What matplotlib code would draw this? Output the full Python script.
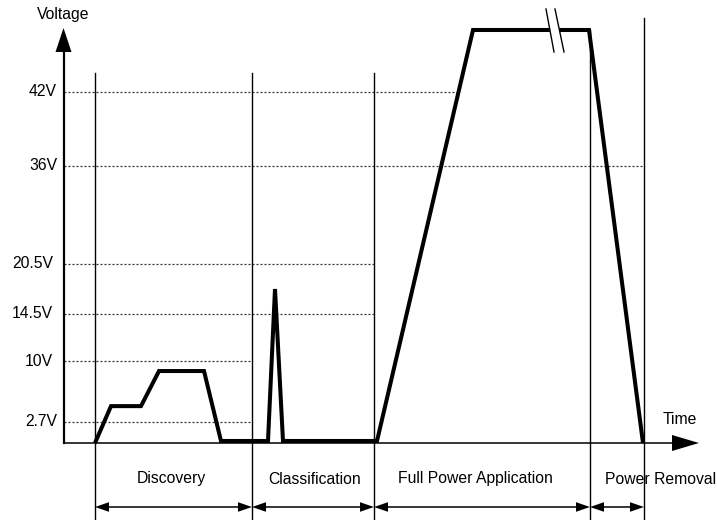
import numpy as np
import matplotlib
matplotlib.use("Agg")
import matplotlib.pyplot as plt

plt.rcParams['font.family'] = ['Liberation Sans', 'DejaVu Sans']

# ---- data ----
phase_names = ['Discovery', 'Classification', 'Full Power Application', 'Power Removal']
phase_bounds = [95, 252, 374, 590, 644]           # time positions of phase borders
phase_label_x = [171, 315, 475, 661]

wave_t = [95, 111, 141, 159, 204, 221, 268, 275, 283, 377, 473, 589, 643]
wave_v = [0, 4.6, 4.6, 8.8, 8.8, 0.26, 0.26, 17.5, 0.26, 0.26, 57, 57, 0]

tick_v = [2.7, 10, 14.5, 20.5, 36, 42]
tick_labels = ['2.7V', '10V', '14.5V', '20.5V', '36V', '42V']
tick_label_right = [57, 53, 53, 53, 57, 57]
grid_end_t = [252, 252, 374, 374, 644, 458]

# schematic (non-linear) voltage scale
V_KNOTS = [0, 2.7, 10, 14.5, 20.5, 36, 42, 57]
P_KNOTS = [0, 21, 82, 129, 179, 277, 351, 413]


def vpos(v):
    return np.interp(v, V_KNOTS, P_KNOTS)


fig = plt.figure(figsize=(7.17, 5.2), dpi=100)
ax = fig.add_axes([0, 0, 1, 1])
ax.set_xlim(0, 717)
ax.set_ylim(-77, 443)
ax.axis('off')

ORIGIN_X = 63.5
AX_TOP = 415
X_TIP = 699

# axes
ax.plot([ORIGIN_X, X_TIP - 20], [0, 0], color='black', lw=1.1, zorder=3)
ax.fill([672, X_TIP, 672], [8, 0, -8], color='black', zorder=3, lw=0)
ax.plot([ORIGIN_X, ORIGIN_X], [0, AX_TOP - 20], color='black', lw=1.6, zorder=3)
ax.fill([ORIGIN_X - 8, ORIGIN_X, ORIGIN_X + 8], [AX_TOP - 24, AX_TOP, AX_TOP - 24],
        color='black', zorder=3, lw=0)
ax.text(ORIGIN_X, 428, 'Voltage', ha='center', va='center', fontsize=11.3)
ax.text(680, 24, 'Time', ha='center', va='center', fontsize=11.3)

# gridlines & tick labels
for v, lab, xr, xe in zip(tick_v, tick_labels, tick_label_right, grid_end_t):
    y = vpos(v)
    ax.plot([ORIGIN_X, xe], [y, y], color='#333333', lw=0.9,
            linestyle=(0, (1.6, 1.6)), zorder=1)
    ax.text(xr, y, lab, ha='right', va='center', fontsize=11.3)

# phase borders
tops = [370, 370, 370, vpos(57), 425]
for t, top in zip(phase_bounds, tops):
    ax.plot([t, t], [-77, top], color='black', lw=1.0, zorder=2)

# phase labels and double arrows
ARR_Y = 443 - 507
for i, name in enumerate(phase_names):
    a, b = phase_bounds[i], phase_bounds[i + 1]
    ax.text(phase_label_x[i], 443 - 479, name, ha='center', va='center', fontsize=11.3)
    ax.plot([a + 5, b - 5], [ARR_Y, ARR_Y], color='black', lw=1.1, zorder=3)
    hl, hw = 14, 4.8
    ax.fill([a, a + hl, a + hl], [ARR_Y, ARR_Y + hw, ARR_Y - hw], color='black', lw=0, zorder=3)
    ax.fill([b, b - hl, b - hl], [ARR_Y, ARR_Y + hw, ARR_Y - hw], color='black', lw=0, zorder=3)

# waveform
ax.plot(wave_t, vpos(wave_v), color='black', lw=2.9, solid_joinstyle='miter',
        solid_capstyle='butt', zorder=4)

# break marks on plateau
def brk_x(x0, x1, y):
    py0, py1 = 443 - 9, 443 - 52
    return x0 + (x1 - x0) * (y - py0) / (py1 - py0)

yA, yB = 443 - 22, 443 - 38
ax.fill([brk_x(546, 554, yA), brk_x(555, 564, yA), brk_x(555, 564, yB), brk_x(546, 554, yB)],
        [yA, yA, yB, yB], color='white', lw=0, zorder=5)
ax.plot([546, 554], [443 - 9, 443 - 52], color='black', lw=1.0, zorder=6)
ax.plot([555, 564], [443 - 9, 443 - 52], color='black', lw=1.0, zorder=6)

fig.savefig('out.png', dpi=100)
